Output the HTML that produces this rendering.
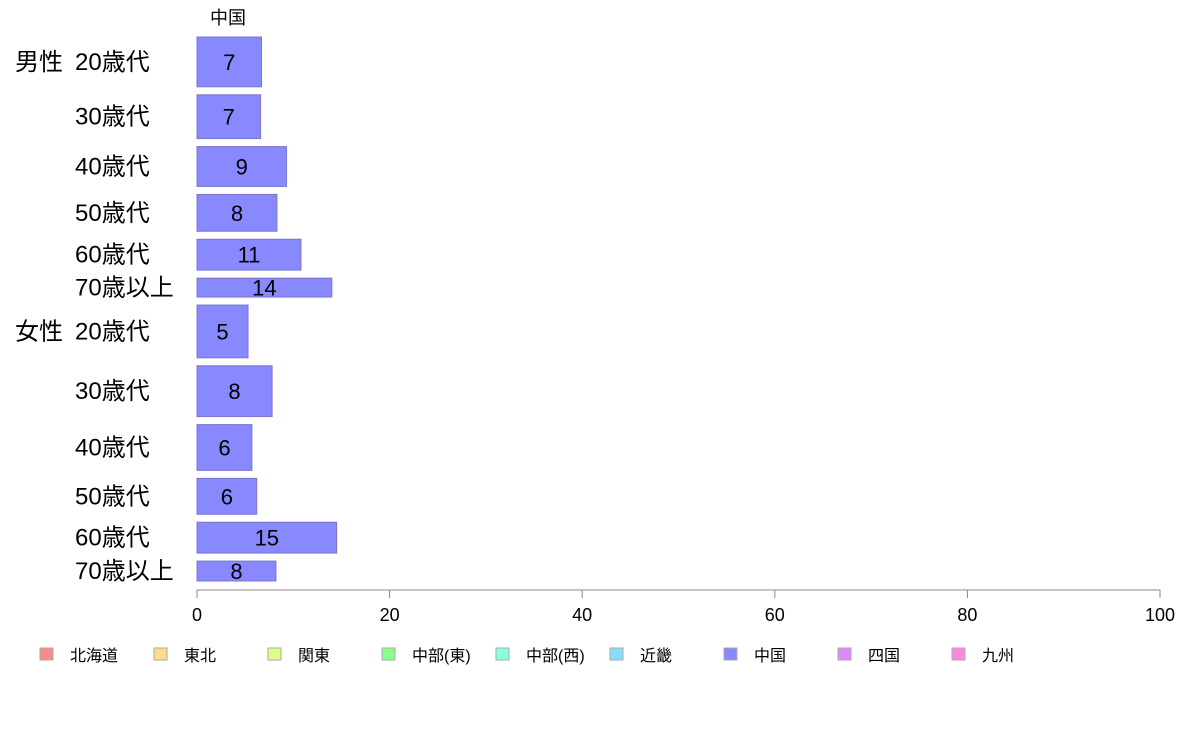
<!DOCTYPE html>
<html><head><meta charset="utf-8"><style>
body{margin:0;background:#fff;}
svg text{font-family:"Liberation Sans","Noto Sans CJK JP",sans-serif;}
</style></head><body>
<svg width="1188" height="736">
<g id="plot"></g>
</svg>
<script>
const categories=["20歳代","30歳代","40歳代","50歳代","60歳代","70歳以上","20歳代","30歳代","40歳代","50歳代","60歳代","70歳以上"];
const groups=["男性","","","","","","女性","","","","",""];
const values=[6.7,6.6,9.3,8.3,10.8,14.0,5.3,7.8,5.7,6.2,14.5,8.2];
const shares=[50,44,40,37,31,19,53,51,46,36,31,20];
const ticks=[0,20,40,60,80,100];
const legendLabels=["北海道","東北","関東","中部(東)","中部(西)","近畿","中国","四国","九州"];
const legendColors=["#ff8888","#ffdd88","#ddff88","#88ff88","#88ffdd","#88ddff","#8888ff","#dd88ff","#ff88dd"];
const NS="http://www.w3.org/2000/svg";
const g=document.getElementById('plot');
const x0=197,x1=1160,yTop=37,yBot=581;
const xs=v=>x0+(x1-x0)*v/100;
const totalShare=shares.reduce((a,b)=>a+b,0);
const gap=8;
const unit=(yBot-yTop-gap*(shares.length-1))/totalShare;
function mk(t,a,txt){const e=document.createElementNS(NS,t);for(const k in a)e.setAttribute(k,a[k]);if(txt!==undefined)e.textContent=txt;g.appendChild(e);return e;}
const title=mk('text',{x:228,y:24,'font-size':18,'text-anchor':'middle',fill:'#000'},'中国');


let y=yTop;
categories.forEach((c,i)=>{
  const h=shares[i]*unit;
  const r=mk('rect',{x:xs(0),y:y,width:xs(values[i])-xs(0),height:h,fill:'#8888ff',stroke:'#7777cc','stroke-width':1});
  
  
  const cy=y+h/2+8;
  const lv=mk('text',{x:(xs(0)+xs(values[i]))/2,y:cy,'font-size':22,'text-anchor':'middle',fill:'#000'},String(Math.round(values[i])));
  
  
  const cl=mk('text',{x:75,y:cy,'font-size':24,fill:'#000'},c);
  
  
  if(groups[i]){const gl=mk('text',{x:15,y:cy,'font-size':24,fill:'#000'},groups[i]);
    
    }
  y+=h+gap;
});
const ax=mk('line',{x1:x0,x2:x1,y1:590,y2:590,stroke:'#888','stroke-width':1});


ticks.forEach(t=>{
  const tl=mk('line',{x1:xs(t),x2:xs(t),y1:590,y2:598,stroke:'#888'});
  
  
  const tt=mk('text',{x:xs(t),y:621,'font-size':18,'text-anchor':'middle',fill:'#000'},String(t));
  
  
});
legendLabels.forEach((l,i)=>{
  const lx=40+i*114;
  const s=mk('rect',{x:lx,y:648,width:13,height:12,fill:legendColors[i],stroke:'#aaa'});
  
  
  const lt=mk('text',{x:lx+30,y:661,'font-size':16,fill:'#000'},l);
  
  
});
</script>
</body></html>
